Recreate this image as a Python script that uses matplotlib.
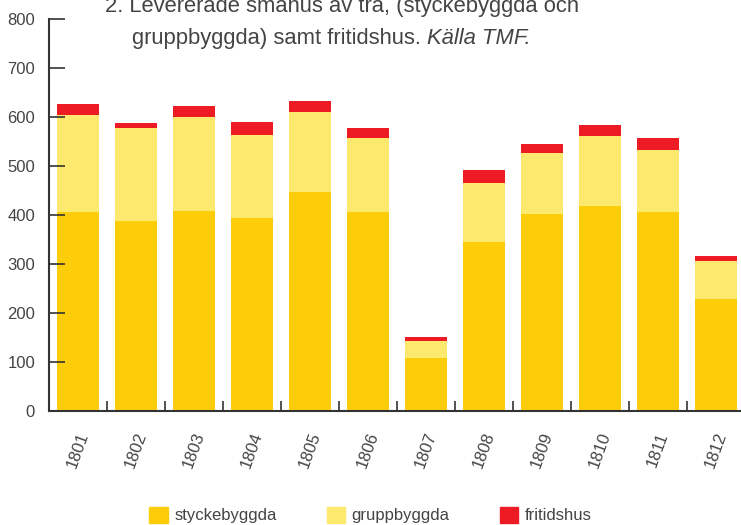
import numpy as np
import matplotlib.pyplot as plt
from matplotlib.patches import Patch

plt.rcParams['font.family'] = ['Liberation Sans', 'DejaVu Sans']

# data
years = ['1801', '1802', '1803', '1804', '1805', '1806',
         '1807', '1808', '1809', '1810', '1811', '1812']
styckebyggda = [406, 388, 408, 394, 447, 406, 108, 345, 402, 418, 406, 229]
gruppbyggda = [198, 190, 192, 169, 163, 151, 35, 120, 125, 143, 127, 77]
fritidshus = [22, 10, 22, 27, 23, 21, 8, 27, 18, 23, 24, 10]

c_styck = '#FECD0A'
c_grupp = '#FEE96F'
c_frit = '#ED1C24'
txt = '#444444'
axc = '#333333'

fig = plt.figure(figsize=(7.41, 5.25), dpi=100)
ax = fig.add_axes([49/741, 114/525, 692/741, 392/525])

x = np.arange(len(years))
w = 0.72
s = np.array(styckebyggda)
g = np.array(gruppbyggda)
f = np.array(fritidshus)
ax.bar(x, s, w, color=c_styck, label='styckebyggda')
ax.bar(x, g, w, bottom=s, color=c_grupp, label='gruppbyggda')
ax.bar(x, f, w, bottom=s + g, color=c_frit, label='fritidshus')

ax.set_xlim(-0.5, -0.5 + 692/58)
ax.set_ylim(0, 800)
ax.set_yticks(np.arange(0, 801, 100))
ax.tick_params(axis='y', direction='in', length=11.5, width=1.2, color=axc,
               labelsize=12, labelcolor=txt, pad=10)

ax.set_xticks(x)
ax.set_xticklabels(years, rotation=70, ha='center', fontsize=12, color=txt)
ax.tick_params(axis='x', length=0, pad=14)
ax.set_xticks(x[:-1] + 0.5, minor=True)
ax.tick_params(axis='x', which='minor', direction='in', length=7, width=1.2, color=axc)

for sp in ['top', 'right']:
    ax.spines[sp].set_visible(False)
for sp in ['left', 'bottom']:
    ax.spines[sp].set_color(axc)
    ax.spines[sp].set_linewidth(1.5)

# title, first line partly cut off at the top like the original
fs = 15.8
fig.text(105/741, 1 - 12/525, '2. Levererade småhus av trä, (styckebyggda och',
         fontsize=fs, color=txt, va='baseline')
l2 = fig.text(132/741, 1 - 44/525, 'gruppbyggda) samt fritidshus. ', fontsize=fs,
              color=txt, va='baseline')
fig.canvas.draw()
bb = l2.get_window_extent()
fig.text(bb.x1/741, 1 - 44/525, 'Källa TMF.', fontsize=fs, color=txt,
         style='italic', va='baseline')

handles = [Patch(color=c_styck), Patch(color=c_grupp), Patch(color=c_frit)]
fig.legend(handles, ['styckebyggda', 'gruppbyggda', 'fritidshus'],
           loc='center', bbox_to_anchor=(0.5, 10/525), ncol=3, frameon=False,
           fontsize=12, handlelength=1.1, handleheight=1.1, handletextpad=0.4,
           columnspacing=3.0, labelcolor=txt)

fig.savefig('out.png', dpi=100)
